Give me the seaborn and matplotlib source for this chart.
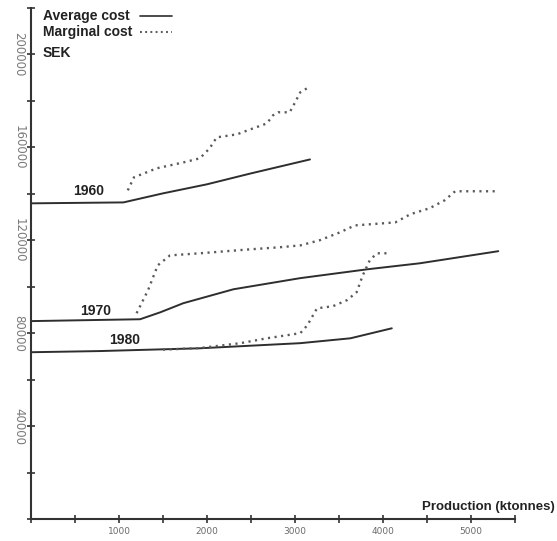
import matplotlib
matplotlib.use("Agg")
import matplotlib.pyplot as plt
from matplotlib.lines import Line2D
from matplotlib.ticker import MultipleLocator, FuncFormatter
import seaborn as sns
import pandas as pd

# Production (ktonnes) and cost (SEK) per curve
avg_1960_x = [0, 1050, 1500, 2000, 2500, 3170]
avg_1960_y = [135900, 136300, 140200, 144100, 148800, 154800]
mar_1960_x = [1100, 1170, 1430, 1730, 1920, 2030, 2110, 2340, 2460, 2680, 2750, 2810, 2940, 3000, 3060, 3170]
mar_1960_y = [141500, 147100, 151000, 153500, 155300, 159600, 164300, 165600, 167300, 170300, 173800, 175100, 175100, 179300, 183700, 186200]

avg_1970_x = [0, 1240, 1470, 1730, 2300, 3060, 3820, 4420, 5310]
avg_1970_y = [85200, 86000, 89000, 92900, 98900, 103700, 107500, 110100, 115300]
mar_1970_x = [1200, 1330, 1440, 1580, 1920, 2490, 2830, 3060, 3280, 3510, 3680, 4140, 4310, 4530, 4700, 4820, 5310]
mar_1970_y = [88600, 98500, 109200, 113500, 114400, 116100, 117000, 117800, 120000, 123400, 126400, 127700, 131200, 133800, 137200, 141100, 141100]

avg_1980_x = [0, 780, 1920, 3060, 3630, 4100]
avg_1980_y = [71800, 72300, 73500, 75700, 77800, 82100]
mar_1980_x = [1500, 1920, 2380, 2680, 3060, 3140, 3250, 3430, 3590, 3700, 3770, 3850, 3930, 4080]
mar_1980_y = [72900, 73600, 75700, 77800, 80000, 83400, 90700, 91600, 94200, 97600, 104900, 111400, 114400, 114400]

years = ["1960", "1970", "1980"]
year_label_x = [650, 730, 1060]
year_label_y = [141000, 89500, 77000]

x_tick_labels = ["1000", "2000", "3000", "4000", "5000"]
legend_labels = ["Average cost", "Marginal cost"]

series = {
    ("1960", "Average"): (avg_1960_x, avg_1960_y),
    ("1960", "Marginal"): (mar_1960_x, mar_1960_y),
    ("1970", "Average"): (avg_1970_x, avg_1970_y),
    ("1970", "Marginal"): (mar_1970_x, mar_1970_y),
    ("1980", "Average"): (avg_1980_x, avg_1980_y),
    ("1980", "Marginal"): (mar_1980_x, mar_1980_y),
}
frames = []
for (yr, kind), (xs, ys) in series.items():
    frames.append(pd.DataFrame({"year": yr, "kind": kind, "production": xs, "cost": ys}))
df = pd.concat(frames, ignore_index=True)

sns.set_style("ticks")
plt.rcParams["font.family"] = ["Liberation Sans", "DejaVu Sans"]

W, H = 557, 541
fig = plt.figure(figsize=(W / 100, H / 100), dpi=100)
ax = fig.add_axes([31 / W, 22 / H, (515 - 31) / W, (519 - 8) / H])

solid_color = "#2e2e2e"
dot_color = "#5a5a5a"
dot_style = (0, (0.9, 1.9))
for (yr, kind), sub in df.groupby(["year", "kind"]):
    if kind == "Average":
        sns.lineplot(data=sub, x="production", y="cost", ax=ax, color=solid_color,
                     linewidth=1.4, estimator=None, sort=False, legend=False)
    else:
        sns.lineplot(data=sub, x="production", y="cost", ax=ax, color=dot_color,
                     linewidth=1.7, estimator=None, sort=False, legend=False,
                     dashes=False, linestyle=dot_style)

ax.set_xlim(0, 5500)
ax.set_ylim(0, 220000)
ax.set_xlabel("")
ax.set_ylabel("")

sns.despine(ax=ax)
for side in ("left", "bottom"):
    ax.spines[side].set_color("#333333")
    ax.spines[side].set_linewidth(1.5)

ax.xaxis.set_major_locator(MultipleLocator(1000))
ax.xaxis.set_minor_locator(MultipleLocator(500))
ax.yaxis.set_major_locator(MultipleLocator(40000))
ax.yaxis.set_minor_locator(MultipleLocator(20000))

ax.xaxis.set_major_formatter(FuncFormatter(
    lambda v, p: x_tick_labels[int(round(v / 1000)) - 1] if 1 <= round(v / 1000) <= 5 else ""))
ax.yaxis.set_major_formatter(FuncFormatter(lambda v, p: f"{int(v)}" if v > 0 else ""))

ax.tick_params(axis="both", which="both", direction="inout", length=6, width=1.2, color="#333333")
ax.tick_params(axis="x", which="major", pad=3, labelsize=6.5, labelcolor="#6a6a6a")
ax.tick_params(axis="y", which="major", pad=1, labelsize=8.5, labelcolor="#7a7a7a")
for lab in ax.get_xticklabels():
    lab.set_family("DejaVu Sans")
for lab in ax.get_yticklabels():
    lab.set_family("DejaVu Sans")
    lab.set_rotation(-90)
    lab.set_va("center")

for yr, lx, ly in zip(years, year_label_x, year_label_y):
    ax.text(lx, ly, yr, ha="center", va="center", fontsize=10, fontweight="bold", color="#222222")

fig.text(555 / W, 1 - 507 / H, "Production (ktonnes)", ha="right", va="center",
         fontsize=9.5, fontweight="bold", color="#222222")

# Key in the top-left corner: label followed by a short line sample
key_rows = [(16, solid_color, 1.2, "-"), (32, dot_color, 1.5, (0, (0.9, 1.6)))]
for label, (ypix, col, lw, ls) in zip(legend_labels, key_rows):
    yf = 1 - ypix / H
    fig.text(43 / W, yf, label, ha="left", va="center", fontsize=10,
             fontweight="bold", color="#222222")
    fig.add_artist(Line2D([140 / W, 172 / W], [yf, yf], transform=fig.transFigure,
                          color=col, linewidth=lw, linestyle=ls))

fig.text(43 / W, 1 - 53 / H, "SEK", ha="left", va="center", fontsize=10,
         fontweight="bold", color="#222222")

fig.savefig("out.png", dpi=100, facecolor="white")
